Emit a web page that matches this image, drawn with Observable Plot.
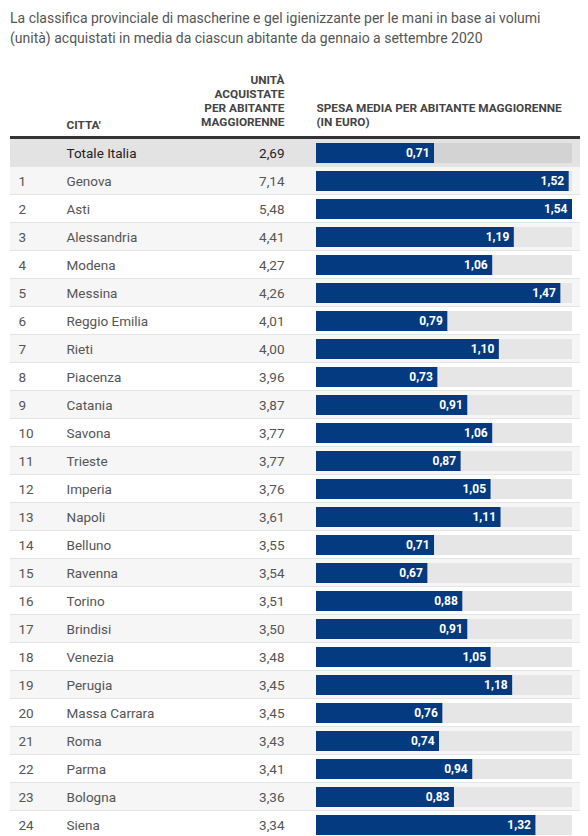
<!DOCTYPE html>
<html>
<head>
<meta charset="utf-8">
<script src="https://cdn.jsdelivr.net/npm/d3@7"></script>
<script src="https://cdn.jsdelivr.net/npm/@observablehq/plot@0.6"></script>
<style>
  html, body { margin: 0; padding: 0; background: #fff; overflow: hidden; }
  #title { font-family: Roboto, "Noto Sans", sans-serif; font-size: 14px; color: #555;
           line-height: 20px; padding: 8px 0 0 10px; height: 42px; }
  svg { display: block; font-family: Roboto, "Noto Sans", sans-serif; }
</style>
</head>
<body>
<div id="title">La classifica provinciale di mascherine e gel igienizzante per le mani in base ai volumi<br>(unità) acquistati in media da ciascun abitante da gennaio a settembre 2020</div>
<div id="chart"></div>
<script>
const totalLabel = "Totale Italia";
const totalUnits = 2.69;
const totalSpesa = 0.71;

const cities = ["Genova","Asti","Alessandria","Modena","Messina","Reggio Emilia","Rieti","Piacenza","Catania","Savona","Trieste","Imperia","Napoli","Belluno","Ravenna","Torino","Brindisi","Venezia","Perugia","Massa Carrara","Roma","Parma","Bologna","Siena"];
const units = [7.14,5.48,4.41,4.27,4.26,4.01,4.00,3.96,3.87,3.77,3.77,3.76,3.61,3.55,3.54,3.51,3.50,3.48,3.45,3.45,3.43,3.41,3.36,3.34];
const spesa = [1.52,1.54,1.19,1.06,1.47,0.79,1.10,0.73,0.91,1.06,0.87,1.05,1.11,0.71,0.67,0.88,0.91,1.05,1.18,0.76,0.74,0.94,0.83,1.32];

const headerCity = "CITTA'";
const headerUnits = "UNITÀ\nACQUISTATE\nPER ABITANTE\nMAGGIORENNE";
const headerSpesa = "SPESA MEDIA PER ABITANTE MAGGIORENNE\n(IN EURO)";

const fmt = v => v.toFixed(2).replace(".", ",");

const rows = [{key: "T", rank: "", city: totalLabel, units: totalUnits, spesa: totalSpesa, total: true}]
  .concat(cities.map((c, i) => ({key: String(i + 1), rank: String(i + 1), city: c, units: units[i], spesa: spesa[i], total: false})));

const maxSpesa = d3.max(spesa);
const marginLeft = 316;
const W = 588;

const rowFill = (d, i) => d.total ? "#e3e3e3" : (i % 2 === 1 ? "#f6f6f6" : "#ffffff");

const chart = Plot.plot({
  width: W,
  height: 800,
  marginLeft: marginLeft,
  marginRight: 16,
  marginTop: 89,
  marginBottom: 11,
  x: {domain: [0, maxSpesa], axis: null},
  y: {domain: rows.map(d => d.key), axis: null, padding: 0},
  color: {type: "identity"},
  marks: [
    // row backgrounds
    Plot.barX(rows, {y: "key", x1: 0, x2: () => maxSpesa, fill: rowFill,
      insetLeft: -(marginLeft - 10), insetRight: -8}),
    // row separators
    Plot.barX(rows, {y: "key", x1: 0, x2: () => maxSpesa, fill: "#e4e4e4",
      insetLeft: -(marginLeft - 10), insetRight: -8, insetTop: 27, insetBottom: 0}),
    // dark header rule
    Plot.barX(rows.slice(0, 1), {y: "key", x1: 0, x2: () => maxSpesa, fill: "#333333",
      insetLeft: -(marginLeft - 10), insetRight: -8, insetTop: -3, insetBottom: 28}),
    // tracks
    Plot.barX(rows, {y: "key", x1: 0, x2: () => maxSpesa, fill: d => d.total ? "#d3d3d3" : "#e6e6e6",
      insetTop: 4, insetBottom: 4}),
    // bars
    Plot.barX(rows, {y: "key", x1: 0, x2: "spesa", fill: "#043b80", insetTop: 4, insetBottom: 4}),
    // bar labels
    Plot.text(rows, {y: "key", x: "spesa", text: d => fmt(d.spesa), textAnchor: "end", dx: -5,
      fill: "#ffffff", fontWeight: "bold", fontSize: 12}),
    // rank
    Plot.text(rows, {y: "key", frameAnchor: "left", text: "rank", textAnchor: "start",
      dx: 18 - marginLeft, fill: "#555", fontSize: 13.5}),
    // city
    Plot.text(rows, {y: "key", frameAnchor: "left", text: "city", textAnchor: "start",
      dx: 66 - marginLeft, fill: d => d.total ? "#222" : "#555",
      fontWeight: d => d.total ? "bold" : "normal", fontSize: 13.5}),
    // units
    Plot.text(rows, {y: "key", frameAnchor: "left", text: d => fmt(d.units), textAnchor: "end",
      dx: 284 - marginLeft, fill: d => d.total ? "#222" : "#555",
      fontWeight: d => d.total ? "bold" : "normal", fontSize: 13.5}),
    // headers
    Plot.text([headerCity], {frameAnchor: "top-left", text: d => d, textAnchor: "start", lineAnchor: "middle",
      dx: 66 - marginLeft, dy: -14, fill: "#444", fontWeight: "bold", fontSize: 11.8}),
    Plot.text([headerUnits], {frameAnchor: "top-left", text: d => d, textAnchor: "end", lineAnchor: "top",
      lineHeight: 1.18, dx: 284 - marginLeft, dy: -65, fill: "#444", fontWeight: "bold", fontSize: 11.8}),
    Plot.text([headerSpesa], {frameAnchor: "top-left", text: d => d, textAnchor: "start", lineAnchor: "top",
      lineHeight: 1.18, dx: 0, dy: -37, fill: "#444", fontWeight: "bold", fontSize: 11.8})
  ]
});
document.getElementById("chart").appendChild(chart);
</script>
</body>
</html>
